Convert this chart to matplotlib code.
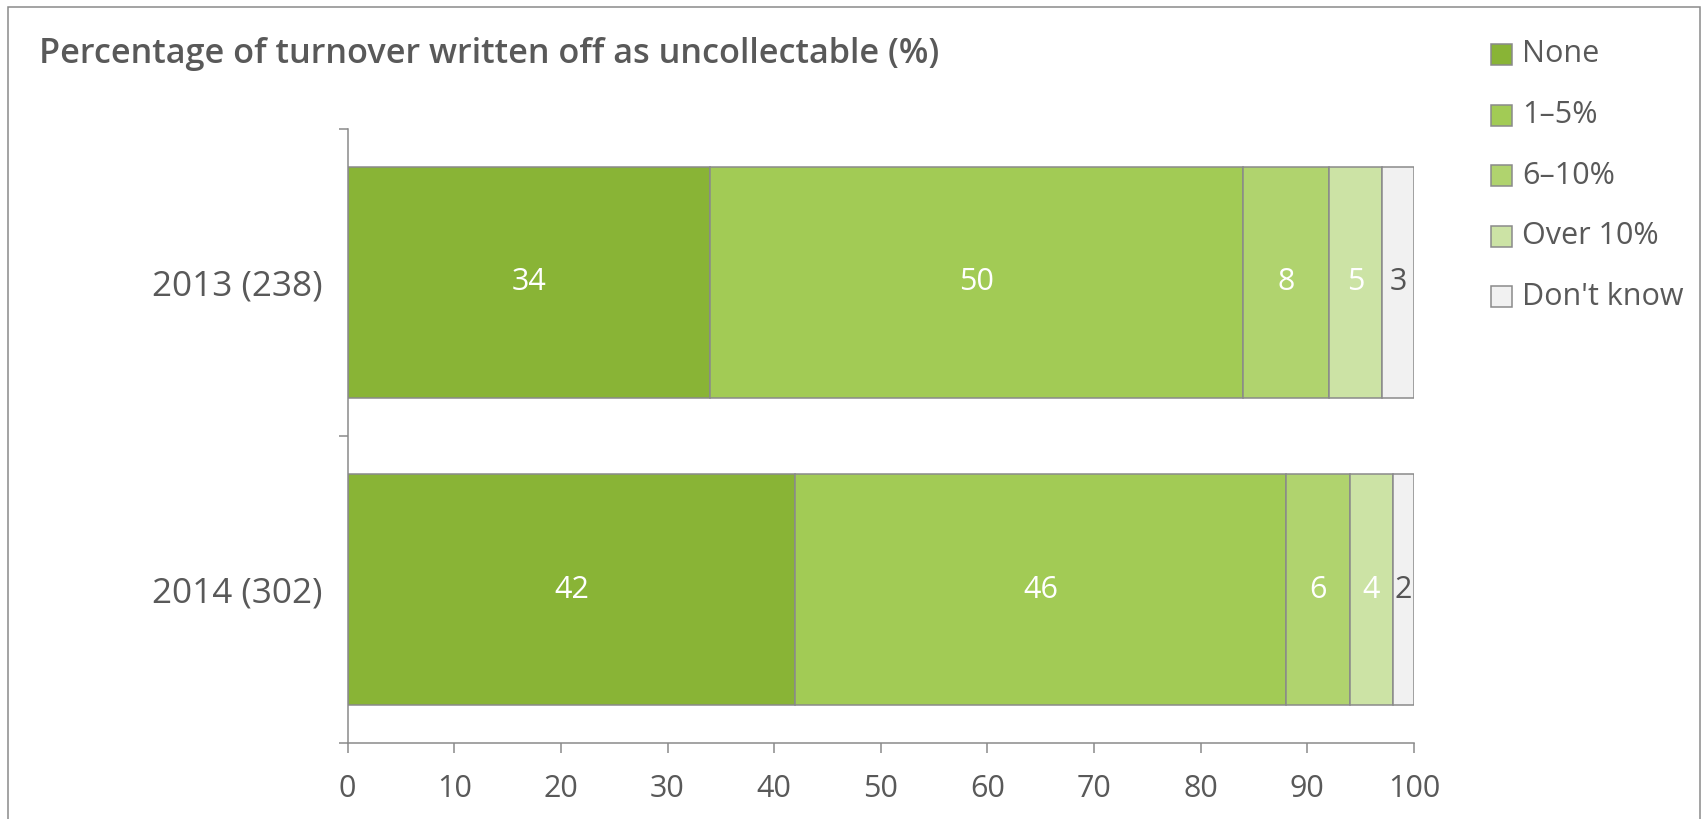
import matplotlib
matplotlib.use("Agg")
import matplotlib.pyplot as plt
from matplotlib.patches import Rectangle

plt.rcParams['font.family'] = ['Open Sans', 'DejaVu Sans']

# Data
title = "Percentage of turnover written off as uncollectable (%)"
groups = ["2013 (238)", "2014 (302)"]
categories = ["None", "1\u20135%", "6\u201310%", "Over 10%", "Don't know"]
values = {
    "None": [34, 42],
    "1\u20135%": [50, 46],
    "6\u201310%": [8, 6],
    "Over 10%": [5, 4],
    "Don't know": [3, 2],
}
colors = ["#89b436", "#a2cb55", "#b0d36e", "#cce3a5", "#f1f1f1"]
label_colors = ["white", "white", "white", "white", "#555555"]
xticks = [0, 10, 20, 30, 40, 50, 60, 70, 80, 90, 100]

TEXT = "#595959"
GRAY = "#8a8a8a"
W, H, DPI = 1703, 819, 100

fig = plt.figure(figsize=(W / DPI, H / DPI), dpi=DPI)
ax = fig.add_axes([347.6 / W, 1 - 743 / H, (1414 - 347.6) / W, (743 - 129) / H])

ypos = list(range(len(groups)))
left = [0] * len(groups)
for cat, col, lcol in zip(categories, colors, label_colors):
    vals = values[cat]
    bars = ax.barh(ypos, vals, left=left, height=0.75, color=col,
                   edgecolor=GRAY, linewidth=1.1, zorder=2)
    for rect, v in zip(bars, vals):
        ax.text(rect.get_x() + rect.get_width() / 2, rect.get_y() + rect.get_height() / 2,
                str(v), ha='center', va='center', color=lcol, fontsize=22, zorder=3)
    left = [a + b for a, b in zip(left, vals)]

ax.set_xlim(0, 100)
ax.set_ylim(len(groups) - 0.5, -0.5)
ax.set_xticks(xticks)
ax.set_xticklabels([str(t) for t in xticks])
ax.set_yticks(ypos)
ax.set_yticklabels(groups)
ax.set_yticks([i - 0.5 for i in range(len(groups) + 1)], minor=True)

for s in ['top', 'right']:
    ax.spines[s].set_visible(False)
for s in ['left', 'bottom']:
    ax.spines[s].set_color(GRAY)
    ax.spines[s].set_linewidth(1.1)

ax.tick_params(axis='x', direction='out', length=7.5, width=1.1, color=GRAY,
               pad=15, labelsize=22, labelcolor=TEXT)
ax.tick_params(axis='y', which='major', length=0, pad=18, labelsize=25.3, labelcolor=TEXT)
ax.tick_params(axis='y', which='minor', direction='out', length=6.5, width=1.1, color=GRAY)

# Title
fig.text(39 / W, 1 - 63 / H, title, ha='left', va='baseline', fontsize=24.7,
         color=TEXT, fontweight='semibold')

# Legend
sq = 21
for i, (cat, col) in enumerate(zip(categories, colors)):
    cy = 54.5 + i * 60.6
    fig.patches.append(Rectangle((1491 / W, 1 - (cy + sq / 2) / H), sq / W, sq / H,
                                 transform=fig.transFigure, facecolor=col,
                                 edgecolor=GRAY, linewidth=1.1))
    fig.text(1522 / W, 1 - cy / H, cat, ha='left', va='center', fontsize=22, color=TEXT)

# Outer frame
fig.patches.append(Rectangle((8 / W, -0.05), (1700 - 8) / W, 1.05 - 7 / H,
                             transform=fig.transFigure, facecolor='none',
                             edgecolor=GRAY, linewidth=1.1, clip_on=False))

fig.savefig("out.png", dpi=DPI, facecolor='white')
